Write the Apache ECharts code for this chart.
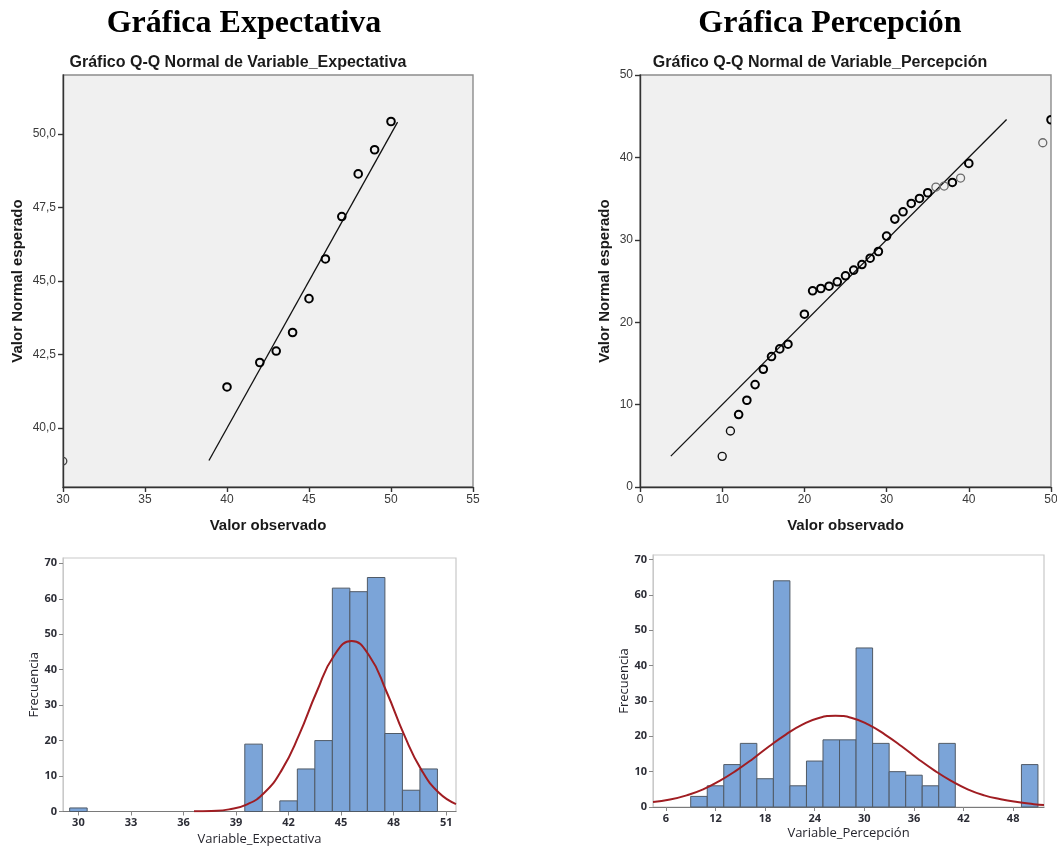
<!DOCTYPE html>
<html><head><meta charset="utf-8">
<script src="https://cdn.jsdelivr.net/npm/echarts@6/dist/echarts.min.js"></script>
<style>html,body{margin:0;padding:0;background:#fff}#c{width:1057px;height:850px}</style>
</head><body><div id="c"></div>
<script>
// ---------- text ----------
const headings = ['Gráfica Expectativa', 'Gráfica Percepción'];
const qqTitles = ['Gráfico Q-Q Normal de Variable_Expectativa', 'Gráfico Q-Q Normal de Variable_Percepción'];
const qqXName = 'Valor observado';
const qqYName = 'Valor Normal esperado';
const histYName = 'Frecuencia';
const histXNames = ['Variable_Expectativa', 'Variable_Percepción'];

// ---------- Q-Q Expectativa ----------
const qqExpObserved = [40, 42, 43, 44, 45, 46, 47, 48, 49, 50];
const qqExpExpected = [41.40, 42.23, 42.62, 43.25, 44.40, 45.75, 47.19, 48.64, 49.46, 50.42];
const qqExpObservedLight = [30];
const qqExpExpectedLight = [38.88];
const qqExpLineX = [38.9, 50.4];
const qqExpLineY = [38.9, 50.4];
const qqExpYTicks = [40, 42.5, 45, 47.5, 50];

// ---------- Q-Q Percepción ----------
const qqPercObserved = [12, 13, 14, 15, 16, 17, 18, 20, 21, 22, 23, 24, 25, 26, 27, 28, 29, 30, 31, 32, 33, 34, 35, 38, 40, 50];
const qqPercExpected = [8.79, 10.53, 12.43, 14.29, 15.83, 16.76, 17.33, 20.97, 23.81, 24.09, 24.37, 24.90, 25.63, 26.32, 27.00, 27.77, 28.58, 30.45, 32.51, 33.40, 34.41, 35.02, 35.71, 36.96, 39.27, 44.57];
const qqPercObservedThin = [10, 11];
const qqPercExpectedThin = [3.72, 6.80];
const qqPercObservedLight = [36, 37, 39, 49];
const qqPercExpectedLight = [36.40, 36.52, 37.49, 41.78];
const qqPercLineX = [3.75, 44.6];
const qqPercLineY = [3.75, 44.6];

// ---------- Histogram Expectativa ----------
const histExpBins = [30, 40, 42, 43, 44, 45, 46, 47, 48, 49, 50];
const histExpFreq = [1, 19, 3, 12, 20, 63, 62, 66, 22, 6, 12];
const histExpBinWidth = 1;
const histExpXTicks = [30, 33, 36, 39, 42, 45, 48, 51];
const curveExpX = [36.6, 37.6, 38.6, 39.6, 40.6, 41.6, 42.6, 43.6, 44.6, 45.6, 46.6, 47.6, 48.6, 49.6, 50.6, 51.56];
const curveExpY = [0.04, 0.16, 0.6, 1.95, 5.2, 11.6, 21.6, 33.7, 44.0, 48.1, 44.0, 33.7, 21.6, 11.6, 5.2, 2.1];

// ---------- Histogram Percepción ----------
const histPercBins = [10, 12, 14, 16, 18, 20, 22, 24, 26, 28, 30, 32, 34, 36, 38, 40, 50];
const histPercFreq = [3, 6, 12, 18, 8, 64, 6, 13, 19, 19, 45, 18, 10, 9, 6, 18, 12];
const histPercBinWidth = 2;
const histPercXTicks = [6, 12, 18, 24, 30, 36, 42, 48];
const curvePercX = [4.44, 6.5, 8.5, 10.5, 12.5, 14.5, 16.5, 18.5, 20.5, 22.5, 24.5, 26.5, 28.5, 30.5, 32.5, 34.5, 36.5, 38.5, 40.5, 42.5, 44.5, 46.5, 48.5, 50.5, 51.73];
const curvePercY = [1.4, 2.1, 3.3, 5.0, 7.4, 10.3, 13.6, 17.2, 20.5, 23.3, 25.2, 25.8, 25.2, 23.3, 20.5, 17.2, 13.6, 10.3, 7.4, 5.0, 3.3, 2.2, 1.4, 0.8, 0.55];
const histYTicks = [0, 10, 20, 30, 40, 50, 60, 70];

// ---------- helpers ----------
const zip = (a, b) => a.map((v, i) => [v, b[i]]);
const SANS = 'Liberation Sans, Arial, sans-serif';
const HSANS = 'Open Sans, Noto Sans, sans-serif';

function qqAxisCommon() {
  return {
    axisLine: { show: true, onZero: false, lineStyle: { color: '#333', width: 1.4 } },
    axisTick: { show: true, length: 5, lineStyle: { color: '#333', width: 1.4 } },
    axisLabel: { color: '#3a3a3a', fontSize: 12, fontFamily: SANS, margin: 7 },
    splitLine: { show: false },
    nameTextStyle: { color: '#1a1a1a', fontSize: 15, fontWeight: 'bold', fontFamily: SANS }
  };
}
function histAxisCommon(lineColor) {
  return {
    axisLine: { show: true, onZero: false, lineStyle: { color: lineColor, width: 1 } },
    axisTick: { show: true, length: 4, lineStyle: { color: '#888', width: 1 } },
    axisLabel: { color: '#2c2d36', fontSize: 11, fontWeight: 'bold', fontFamily: HSANS, margin: 6 },
    splitLine: { show: false },
    nameTextStyle: { color: '#25252d', fontSize: 13, fontFamily: HSANS }
  };
}
function histSeries(idx, bins, freq, width) {
  return {
    type: 'custom', xAxisIndex: idx, yAxisIndex: idx,
    data: zip(bins, freq),
    encode: { x: 0, y: 1 },
    renderItem: function (params, api) {
      const x = api.value(0), y = api.value(1);
      const p1 = api.coord([x - width / 2, y]);
      const p2 = api.coord([x + width / 2, 0]);
      return {
        type: 'rect',
        shape: { x: p1[0], y: p1[1], width: p2[0] - p1[0], height: p2[1] - p1[1] },
        style: { fill: '#7ba4d8', stroke: '#505a66', lineWidth: 1 }
      };
    }
  };
}
function qqPoints(idx, xs, ys, color, lw, r) {
  return {
    type: 'custom', xAxisIndex: idx, yAxisIndex: idx, clip: true, z: 3,
    data: zip(xs, ys), encode: { x: 0, y: 1 },
    renderItem: function (params, api) {
      const p = api.coord([api.value(0), api.value(1)]);
      return { type: 'circle', shape: { cx: p[0], cy: p[1], r: r }, style: { fill: 'none', stroke: color, lineWidth: lw } };
    }
  };
}
function refLine(idx, xs, ys) {
  return {
    type: 'line', xAxisIndex: idx, yAxisIndex: idx, data: zip(xs, ys),
    symbol: 'none', lineStyle: { color: '#111', width: 1.3 }, z: 2
  };
}
function curve(idx, xs, ys) {
  return {
    type: 'line', xAxisIndex: idx, yAxisIndex: idx, data: zip(xs, ys),
    symbol: 'none', smooth: true, lineStyle: { color: '#a01d22', width: 2 }, z: 4
  };
}
const fmtComma = v => v.toFixed(1).replace('.', ',');
const gridBase = { show: true, outerBoundsMode: 'none', containLabel: false };

const option = {
  backgroundColor: '#ffffff',
  animation: false,
  grid: [
    Object.assign({ left: 63, top: 75, width: 410, height: 412, backgroundColor: '#f0f0f0', borderColor: '#8c8c8c', borderWidth: 1.4 }, gridBase),
    Object.assign({ left: 640, top: 75, width: 411, height: 412, backgroundColor: '#f0f0f0', borderColor: '#8c8c8c', borderWidth: 1.4 }, gridBase),
    Object.assign({ left: 63, top: 558, width: 393, height: 253.5, backgroundColor: '#ffffff', borderColor: '#c9c9c9', borderWidth: 1.2 }, gridBase),
    Object.assign({ left: 653, top: 555, width: 391, height: 252, backgroundColor: '#ffffff', borderColor: '#c9c9c9', borderWidth: 1.2 }, gridBase)
  ],
  xAxis: [
    Object.assign(qqAxisCommon(), { type: 'value', gridIndex: 0, min: 30, max: 55, interval: 5, name: qqXName, nameLocation: 'middle', nameGap: 31 }),
    Object.assign(qqAxisCommon(), { type: 'value', gridIndex: 1, min: 0, max: 50, interval: 10, name: qqXName, nameLocation: 'middle', nameGap: 31 }),
    (function () { const a = histAxisCommon('#7a7a7a'); a.axisLabel.customValues = histExpXTicks; a.axisTick.customValues = histExpXTicks;
      return Object.assign(a, { type: 'value', gridIndex: 2, min: 29.12, max: 51.56, name: histXNames[0], nameLocation: 'middle', nameGap: 21 }); })(),
    (function () { const a = histAxisCommon('#7a7a7a'); a.axisLabel.customValues = histPercXTicks; a.axisTick.customValues = histPercXTicks;
      return Object.assign(a, { type: 'value', gridIndex: 3, min: 4.44, max: 51.73, name: histXNames[1], nameLocation: 'middle', nameGap: 20 }); })()
  ],
  yAxis: [
    (function () { const a = qqAxisCommon(); a.axisLabel.customValues = qqExpYTicks; a.axisLabel.formatter = fmtComma; a.axisTick.customValues = qqExpYTicks;
      return Object.assign(a, { type: 'value', gridIndex: 0, min: 38, max: 52, name: qqYName, nameLocation: 'middle', nameGap: 38 }); })(),
    Object.assign(qqAxisCommon(), { type: 'value', gridIndex: 1, min: 0, max: 50, interval: 10, name: qqYName, nameLocation: 'middle', nameGap: 28 }),
    (function () { const a = histAxisCommon('#c9c9c9'); a.axisLabel.customValues = histYTicks; a.axisTick.customValues = histYTicks;
      return Object.assign(a, { type: 'value', gridIndex: 2, min: 0, max: 71.5, name: histYName, nameLocation: 'middle', nameGap: 22 }); })(),
    (function () { const a = histAxisCommon('#c9c9c9'); a.axisLabel.customValues = histYTicks; a.axisTick.customValues = histYTicks;
      return Object.assign(a, { type: 'value', gridIndex: 3, min: 0, max: 71.3, name: histYName, nameLocation: 'middle', nameGap: 22 }); })()
  ],
  series: [
    refLine(0, qqExpLineX, qqExpLineY),
    qqPoints(0, qqExpObserved, qqExpExpected, '#000', 2, 3.8),
    qqPoints(0, qqExpObservedLight, qqExpExpectedLight, '#444', 1.3, 3.8),
    refLine(1, qqPercLineX, qqPercLineY),
    qqPoints(1, qqPercObserved, qqPercExpected, '#000', 2, 3.8),
    qqPoints(1, qqPercObservedThin, qqPercExpectedThin, '#111', 1.4, 4),
    qqPoints(1, qqPercObservedLight, qqPercExpectedLight, '#6a6a6a', 1.3, 4),
    histSeries(2, histExpBins, histExpFreq, histExpBinWidth),
    curve(2, curveExpX, curveExpY),
    histSeries(3, histPercBins, histPercFreq, histPercBinWidth),
    curve(3, curvePercX, curvePercY)
  ],
  graphic: [
    { type: 'text', x: 244, y: 23.5, style: { text: headings[0], fill: '#000', font: 'bold 32px "Liberation Serif", "Times New Roman", serif', align: 'center', verticalAlign: 'middle' } },
    { type: 'text', x: 830, y: 23.5, style: { text: headings[1], fill: '#000', font: 'bold 32px "Liberation Serif", "Times New Roman", serif', align: 'center', verticalAlign: 'middle' } },
    { type: 'text', x: 238, y: 63, style: { text: qqTitles[0], fill: '#1a1a1a', font: 'bold 16px "Liberation Sans", Arial, sans-serif', align: 'center', verticalAlign: 'middle' } },
    { type: 'text', x: 820, y: 63, style: { text: qqTitles[1], fill: '#1a1a1a', font: 'bold 16px "Liberation Sans", Arial, sans-serif', align: 'center', verticalAlign: 'middle' } }
  ]
};
const chart = echarts.init(document.getElementById('c'), null, { renderer: 'canvas' });
chart.setOption(option);
</script>
</body></html>
